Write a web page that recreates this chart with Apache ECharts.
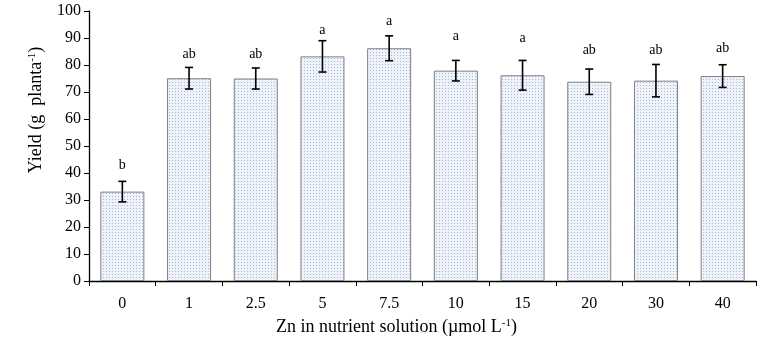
<!DOCTYPE html>
<html>
<head>
<meta charset="utf-8">
<script src="https://cdn.jsdelivr.net/npm/echarts@6/dist/echarts.min.js"></script>
<style>
  html, body { margin: 0; padding: 0; background: #fff; }
  #chart { width: 783px; height: 344px; }
</style>
</head>
<body>
<div id="chart"></div>
<script>
// Zn doses (µmol L-1)
var categories = ["0", "1", "2.5", "5", "7.5", "10", "15", "20", "30", "40"];
// mean yield (g planta-1)
var yieldMean = [33.1, 75.1, 75.0, 83.2, 86.2, 77.9, 76.2, 73.8, 74.2, 75.9];
// error bar half-width
var yieldErr = [3.8, 4.0, 3.9, 5.8, 4.6, 3.8, 5.5, 4.7, 6.0, 4.2];
// significance letters and the height at which they sit
var letters = ["b", "ab", "ab", "a", "a", "a", "a", "ab", "ab", "ab"];
var letterY = [43, 84, 84, 93, 96, 90.5, 90, 85.5, 85.5, 86.3];
var yTicks = [0, 10, 20, 30, 40, 50, 60, 70, 80, 90, 100];

var serif = "'Liberation Serif', 'Times New Roman', serif";

// dotted fill like the original picture
function dotPattern() {
  var c = document.createElement("canvas");
  c.width = 3;
  c.height = 3;
  var ctx = c.getContext("2d");
  ctx.fillStyle = "#eef2fa";
  ctx.fillRect(0, 0, 3, 3);
  ctx.fillStyle = "#aab6cf";
  ctx.fillRect(1, 1, 1, 1);
  return c;
}

var errData = categories.map(function (c, i) {
  return [i, yieldMean[i] - yieldErr[i], yieldMean[i] + yieldErr[i]];
});
var letterData = categories.map(function (c, i) {
  return [i, letterY[i]];
});

var supStyle = { fontFamily: serif, fontSize: 11, color: "#000", verticalAlign: "top", padding: [0, 0, 7, 0] };

var chart = echarts.init(document.getElementById("chart"));

chart.setOption({
  animation: false,
  grid: { left: 89, right: 27, top: 11, bottom: 63, outerBoundsMode: "none", containLabel: false },
  xAxis: {
    type: "category",
    data: categories,
    name: "Zn in nutrient solution (µmol L{sup|-1})",
    nameLocation: "middle",
    nameGap: 37,
    nameTextStyle: { fontFamily: serif, fontSize: 18, color: "#000", padding: [0, 52, 0, 0], rich: { sup: supStyle } },
    axisLine: { lineStyle: { color: "#000", width: 1.3 } },
    axisTick: { show: true, length: 5, lineStyle: { color: "#000" } },
    axisLabel: { fontFamily: serif, fontSize: 16, color: "#000", margin: 15 }
  },
  yAxis: {
    type: "value",
    min: 0,
    max: 100,
    interval: 10,
    name: "Yield (g  planta{sup|-1})",
    nameLocation: "middle",
    nameRotate: 90,
    nameGap: 44,
    nameTextStyle: { fontFamily: serif, fontSize: 18, color: "#000", padding: [0, 0, 0, 72], rich: { sup: supStyle } },
    axisLine: { show: true, lineStyle: { color: "#000", width: 1.3 } },
    axisTick: { show: true, length: 5, lineStyle: { color: "#000" } },
    axisLabel: {
      fontFamily: serif, fontSize: 16, color: "#000", margin: 8,
      formatter: function (v) { return yTicks.indexOf(v) >= 0 ? String(v) : ""; }
    },
    splitLine: { show: false }
  },
  series: [
    {
      type: "bar",
      data: yieldMean,
      barWidth: "66%",
      itemStyle: {
        color: { image: dotPattern(), repeat: "repeat" },
        borderColor: "#7f7f7f",
        borderWidth: 1
      }
    },
    {
      type: "custom",
      data: errData,
      z: 5,
      renderItem: function (params, api) {
        var lo = api.coord([api.value(0), api.value(1)]);
        var hi = api.coord([api.value(0), api.value(2)]);
        var cap = 4;
        var style = { stroke: "#000", lineWidth: 1.6 };
        return {
          type: "group",
          children: [
            { type: "line", shape: { x1: hi[0], y1: hi[1], x2: lo[0], y2: lo[1] }, style: style },
            { type: "line", shape: { x1: hi[0] - cap, y1: hi[1], x2: hi[0] + cap, y2: hi[1] }, style: style },
            { type: "line", shape: { x1: lo[0] - cap, y1: lo[1], x2: lo[0] + cap, y2: lo[1] }, style: style }
          ]
        };
      }
    },
    {
      type: "custom",
      data: letterData,
      z: 6,
      renderItem: function (params, api) {
        var p = api.coord([api.value(0), api.value(1)]);
        return {
          type: "text",
          x: p[0],
          y: p[1],
          style: {
            text: letters[params.dataIndex],
            fontFamily: serif,
            fontSize: 14,
            fill: "#000",
            align: "center",
            verticalAlign: "middle"
          }
        };
      }
    }
  ]
});
</script>
</body>
</html>
